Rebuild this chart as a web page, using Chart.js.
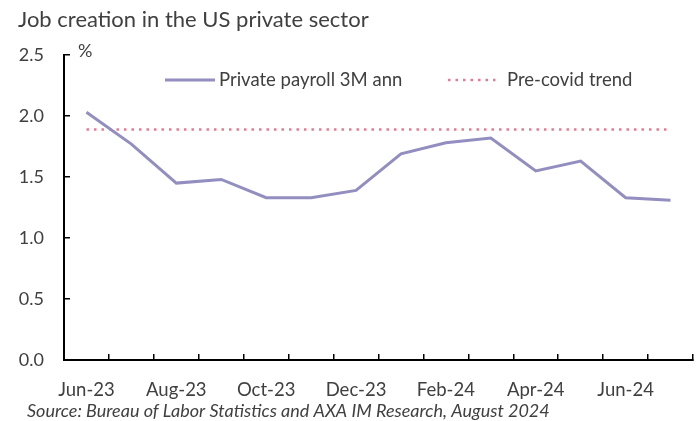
<!DOCTYPE html>
<html>
<head>
<meta charset="utf-8">
<script src="https://cdn.jsdelivr.net/npm/chart.js@4.4.1/dist/chart.umd.min.js"></script>
<style>
  html, body { margin: 0; padding: 0; background: #ffffff; }
  #wrap { width: 700px; height: 421px; position: relative; }
</style>
</head>
<body>
<div id="wrap"><canvas id="c" width="700" height="421"></canvas></div>
<script>
const titleText = 'Job creation in the US private sector';
const sourceText = 'Source: Bureau of Labor Statistics and AXA IM Research, August 2024';
const unitLabel = '%';
const months = ['Jun-23','Jul-23','Aug-23','Sep-23','Oct-23','Nov-23','Dec-23','Jan-24','Feb-24','Mar-24','Apr-24','May-24','Jun-24','Jul-24'];
const payroll3M = [2.03, 1.77, 1.45, 1.48, 1.33, 1.33, 1.39, 1.69, 1.78, 1.82, 1.55, 1.63, 1.33, 1.31];
const preCovidTrend = [1.89, 1.89, 1.89, 1.89, 1.89, 1.89, 1.89, 1.89, 1.89, 1.89, 1.89, 1.89, 1.89, 1.89];
const seriesNames = ['Private payroll 3M ann', 'Pre-covid trend'];
const yTicks = [0, 0.5, 1.0, 1.5, 2.0, 2.5];

const FONT = 'Lato, "Open Sans", sans-serif';
const TXT = '#404040';
const LINE_COL = '#928fc0';
const TREND_COL = '#e8798f';

const overlay = {
  id: 'overlay',
  afterDraw(chart) {
    const ctx = chart.ctx;
    const a = chart.chartArea;
    ctx.save();
    ctx.fillStyle = TXT;
    ctx.textAlign = 'left';
    ctx.textBaseline = 'middle';
    // unit label
    ctx.font = '18px ' + FONT;
    ctx.fillText(unitLabel, a.left + 14, a.top - 4);
    // legend
    const ly = a.top + 25;
    const items = [
      { x: a.left + 101, gap: 54, ds: chart.data.datasets[0] },
      { x: a.left + 384, gap: 59, ds: chart.data.datasets[1] }
    ];
    items.forEach(it => {
      ctx.save();
      ctx.strokeStyle = it.ds.borderColor;
      ctx.lineWidth = it.ds.borderWidth;
      ctx.setLineDash(it.ds.borderDash || []);
      ctx.beginPath();
      ctx.moveTo(it.x, ly);
      ctx.lineTo(it.x + 50, ly);
      ctx.stroke();
      ctx.restore();
      ctx.fillStyle = TXT;
      ctx.font = '18.5px ' + FONT;
      ctx.fillText(it.ds.label, it.x + it.gap, ly);
    });
    // source note
    ctx.font = 'italic 18px ' + FONT;
    ctx.fillText(sourceText, 27, chart.height - 10);
    ctx.restore();
  }
};

new Chart(document.getElementById('c'), {
  type: 'line',
  data: {
    labels: months,
    datasets: [
      {
        label: seriesNames[0],
        data: payroll3M,
        borderColor: LINE_COL,
        borderWidth: 3,
        pointRadius: 0,
        tension: 0,
        fill: false
      },
      {
        label: seriesNames[1],
        data: preCovidTrend,
        borderColor: TREND_COL,
        borderWidth: 2.5,
        borderDash: [2.5, 5],
        pointRadius: 0,
        tension: 0,
        fill: false
      }
    ]
  },
  options: {
    responsive: false,
    animation: false,
    devicePixelRatio: 1,
    layout: { padding: { left: 18, right: 7, top: 0, bottom: 19 } },
    plugins: {
      legend: { display: false },
      tooltip: { enabled: false },
      title: {
        display: true,
        text: titleText,
        align: 'start',
        color: TXT,
        font: { family: FONT, size: 22, weight: 'normal', lineHeight: 1.2 },
        padding: { top: 7, bottom: 21.6 }
      }
    },
    scales: {
      x: {
        type: 'category',
        offset: true,
        grid: { offset: true, drawOnChartArea: false, drawTicks: true, tickLength: -6, color: '#000', lineWidth: 1.5 },
        border: { display: true, color: '#000', width: 2 },
        ticks: {
          autoSkip: false,
          maxRotation: 0,
          color: TXT,
          padding: 25,
          font: { family: FONT, size: 18.5 },
          callback: function (v, i) { return i % 2 === 0 ? this.getLabelForValue(v) : ''; }
        },
        afterFit: s => { s.height = 42; }
      },
      y: {
        min: 0,
        max: 2.5,
        afterBuildTicks: s => { s.ticks = yTicks.map(v => ({ value: v })); },
        grid: { drawOnChartArea: false, drawTicks: true, tickLength: -6, color: '#000', lineWidth: 1.5 },
        border: { display: true, color: '#000', width: 2 },
        ticks: {
          color: TXT,
          padding: 26,
          font: { family: FONT, size: 18 },
          callback: v => Number(v).toFixed(1)
        },
        afterFit: s => { s.width = 46; }
      }
    }
  },
  plugins: [overlay]
});
</script>
</body>
</html>
